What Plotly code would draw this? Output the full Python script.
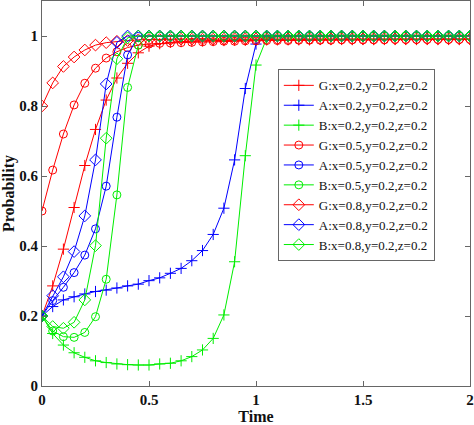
import plotly.graph_objects as go

t = [round(0.05 * i, 2) for i in range(41)]

G02 = [0.2, 0.286, 0.391, 0.51, 0.63, 0.733, 0.817, 0.88, 0.922, 0.952, 0.971, 0.978, 0.982, 0.984, 0.985,
       0.986, 0.987, 0.987, 0.988, 0.988, 0.988, 0.989, 0.989, 0.989, 0.989, 0.989, 0.99, 0.99, 0.99, 0.99,
       0.99, 0.99, 0.99, 0.99, 0.99, 0.99, 0.99, 0.99, 0.99, 0.99, 0.99]
A02 = [0.2, 0.227, 0.246, 0.255, 0.263, 0.27, 0.274, 0.28, 0.286, 0.291, 0.301, 0.309, 0.322, 0.336, 0.358,
       0.387, 0.433, 0.508, 0.646, 0.85, 0.977, 1.0, 1.0, 1.0, 1.0, 1.0, 1.0, 1.0, 1.0, 1.0,
       1.0, 1.0, 1.0, 1.0, 1.0, 1.0, 1.0, 1.0, 1.0, 1.0, 1.0]
B02 = [0.2, 0.15, 0.117, 0.095, 0.082, 0.072, 0.067, 0.063, 0.061, 0.06, 0.06, 0.063, 0.065, 0.072, 0.084,
       0.103, 0.136, 0.203, 0.355, 0.658, 0.917, 0.994, 1.0, 1.0, 1.0, 1.0, 1.0, 1.0, 1.0, 1.0,
       1.0, 1.0, 1.0, 1.0, 1.0, 1.0, 1.0, 1.0, 1.0, 1.0, 1.0]
G05 = [0.5, 0.617, 0.72, 0.803, 0.865, 0.908, 0.937, 0.955, 0.967, 0.974, 0.977, 0.979, 0.98, 0.981, 0.982,
       0.983, 0.984, 0.985, 0.985, 0.986, 0.986, 0.987, 0.987, 0.987, 0.988, 0.988, 0.988, 0.988, 0.989, 0.989,
       0.989, 0.989, 0.989, 0.99, 0.99, 0.99, 0.99, 0.99, 0.99, 0.99, 0.99]
A05 = [0.2, 0.244, 0.282, 0.324, 0.374, 0.449, 0.571, 0.768, 0.946, 0.999, 1.0, 1.0, 1.0, 1.0, 1.0,
       1.0, 1.0, 1.0, 1.0, 1.0, 1.0, 1.0, 1.0, 1.0, 1.0, 1.0, 1.0, 1.0, 1.0, 1.0,
       1.0, 1.0, 1.0, 1.0, 1.0, 1.0, 1.0, 1.0, 1.0, 1.0, 1.0]
B05 = [0.2, 0.157, 0.141, 0.139, 0.153, 0.198, 0.305, 0.546, 0.853, 0.974, 0.999, 1.0, 1.0, 1.0, 1.0,
       1.0, 1.0, 1.0, 1.0, 1.0, 1.0, 1.0, 1.0, 1.0, 1.0, 1.0, 1.0, 1.0, 1.0, 1.0,
       1.0, 1.0, 1.0, 1.0, 1.0, 1.0, 1.0, 1.0, 1.0, 1.0, 1.0]
G08 = [0.8, 0.866, 0.913, 0.94, 0.96, 0.974, 0.981, 0.985, 0.987, 0.989, 0.99, 0.99, 0.99, 0.991, 0.991,
       0.991, 0.991, 0.991, 0.992, 0.992, 0.992, 0.992, 0.992, 0.992, 0.992, 0.992, 0.992, 0.992, 0.992, 0.992,
       0.992, 0.992, 0.992, 0.992, 0.992, 0.992, 0.992, 0.992, 0.992, 0.992, 0.992]
A08 = [0.2, 0.258, 0.312, 0.384, 0.486, 0.646, 0.863, 0.982, 1.0, 1.0, 1.0, 1.0, 1.0, 1.0, 1.0,
       1.0, 1.0, 1.0, 1.0, 1.0, 1.0, 1.0, 1.0, 1.0, 1.0, 1.0, 1.0, 1.0, 1.0, 1.0,
       1.0, 1.0, 1.0, 1.0, 1.0, 1.0, 1.0, 1.0, 1.0, 1.0, 1.0]
B08 = [0.2, 0.17, 0.165, 0.182, 0.246, 0.401, 0.708, 0.935, 0.995, 1.0, 1.0, 1.0, 1.0, 1.0, 1.0,
       1.0, 1.0, 1.0, 1.0, 1.0, 1.0, 1.0, 1.0, 1.0, 1.0, 1.0, 1.0, 1.0, 1.0, 1.0,
       1.0, 1.0, 1.0, 1.0, 1.0, 1.0, 1.0, 1.0, 1.0, 1.0, 1.0]

labels = ["G:x=0.2,y=0.2,z=0.2", "A:x=0.2,y=0.2,z=0.2", "B:x=0.2,y=0.2,z=0.2",
          "G:x=0.5,y=0.2,z=0.2", "A:x=0.5,y=0.2,z=0.2", "B:x=0.5,y=0.2,z=0.2",
          "G:x=0.8,y=0.2,z=0.2", "A:x=0.8,y=0.2,z=0.2", "B:x=0.8,y=0.2,z=0.2"]
series = [G02, A02, B02, G05, A05, B05, G08, A08, B08]
colors = ["#ff0000", "#0000ff", "#00ee00"] * 3
symbols = ["cross-thin-open"] * 3 + ["circle-open"] * 3 + ["diamond-open"] * 3
sizes = [8] * 3 + [8] * 3 + [9] * 3

fig = go.Figure()
for name, ys, c, s, sz in zip(labels, series, colors, symbols, sizes):
    assert len(ys) == len(t)
    fig.add_trace(go.Scatter(
        x=t, y=ys, name=name, mode="lines+markers",
        line=dict(color=c, width=1),
        marker=dict(symbol=s, size=sz, color=c, line=dict(color=c, width=1)),
    ))

axis_common = dict(
    showgrid=False, zeroline=False, showline=True, linecolor="#666666", linewidth=1,
    mirror="ticks", ticks="inside", ticklen=5, tickcolor="#666666",
    tickfont=dict(family="Liberation Serif", size=15, color="#111111", weight="bold"),
)
fig.update_xaxes(range=[0, 2], tickvals=[0, 0.5, 1, 1.5, 2],
                 title=dict(text="Time", font=dict(family="Liberation Serif", size=16, color="#111111", weight="bold"), standoff=2),
                 **axis_common)
fig.update_yaxes(range=[0, 1.1], tickvals=[0, 0.2, 0.4, 0.6, 0.8, 1],
                 title=dict(text="Probability", font=dict(family="Liberation Serif", size=16, color="#111111", weight="bold"), standoff=5),
                 **axis_common)

fig.update_layout(
    width=474, height=425,
    margin=dict(l=42, r=4, t=1, b=39),
    plot_bgcolor="white", paper_bgcolor="white",
    showlegend=True,
    legend=dict(x=0.551, y=0.573, xanchor="left", yanchor="middle",
                bgcolor="white", bordercolor="#666666", borderwidth=1,
                font=dict(family="Liberation Serif", size=13, color="#111111"),
                tracegroupgap=0, itemwidth=30),
)

fig.write_html("out.html", config={"displayModeBar": False},
               post_script="document.body.style.margin='0';document.body.style.overflow='hidden';")
